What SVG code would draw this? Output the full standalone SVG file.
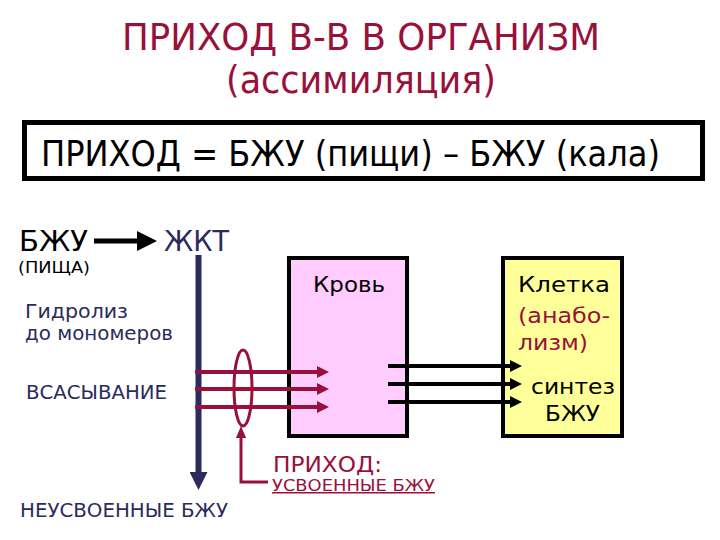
<svg xmlns="http://www.w3.org/2000/svg" width="720" height="540" viewBox="0 0 720 540">
<style>
text{font-family:"DejaVu Sans","Noto Sans",sans-serif}
.red{fill:#99103a}
.navy{fill:#2b2b5c}
.box{stroke:#000;stroke-width:4}
</style>
<defs>
<marker id="ab" markerWidth="4" markerHeight="4" refX="0" refY="2" orient="auto" markerUnits="strokeWidth"><path d="M0,0L4,2L0,4z" fill="#000"/></marker>
<marker id="ab3" markerWidth="3" markerHeight="3" refX="0" refY="1.5" orient="auto" markerUnits="strokeWidth"><path d="M0,0L3,1.5L0,3z" fill="#000"/></marker>
<marker id="ar" markerWidth="3" markerHeight="3" refX="0" refY="1.5" orient="auto" markerUnits="strokeWidth"><path d="M0,0L3,1.5L0,3z" fill="#99103a"/></marker>
<marker id="ar4" markerWidth="4" markerHeight="4" refX="0" refY="1.7" orient="auto" markerUnits="strokeWidth"><path d="M0,0L4,1.7L0,3.4z" fill="#99103a"/></marker>
<marker id="an" markerWidth="3" markerHeight="3" refX="0" refY="1.5" orient="auto" markerUnits="strokeWidth"><path d="M0,0L3,1.5L0,3z" fill="#2b2b5c"/></marker>
</defs>
<rect width="720" height="540" fill="#fff"/>
<g id="title">
<text class="red" x="122" y="50" font-size="37" textLength="478" lengthAdjust="spacingAndGlyphs">ПРИХОД В-В В ОРГАНИЗМ</text>
<text class="red" x="226" y="93" font-size="37" textLength="270" lengthAdjust="spacingAndGlyphs">(ассимиляция)</text>
</g>
<g id="formula">
<rect x="24.5" y="122.5" width="678" height="56" fill="#fff" stroke="#000" stroke-width="5"/>
<text x="41" y="166" font-size="35" textLength="619" lengthAdjust="spacingAndGlyphs">ПРИХОД = БЖУ (пищи) – БЖУ (кала)</text>
</g>
<g id="bzhu">
<text x="19" y="251" font-size="28" textLength="69" lengthAdjust="spacingAndGlyphs">БЖУ</text>
<text x="18" y="273" font-size="16" textLength="72" lengthAdjust="spacingAndGlyphs">(ПИЩА)</text>
</g>
<g id="zhkt">
<text class="navy" x="164" y="251" font-size="28" textLength="65" lengthAdjust="spacingAndGlyphs">ЖКТ</text>
</g>
<g id="labels">
<text class="navy" x="25" y="318" font-size="19" textLength="103" lengthAdjust="spacingAndGlyphs">Гидролиз</text>
<text class="navy" x="25" y="340" font-size="19" textLength="148" lengthAdjust="spacingAndGlyphs">до мономеров</text>
<text class="navy" x="26" y="399" font-size="19" textLength="141" lengthAdjust="spacingAndGlyphs">ВСАСЫВАНИЕ</text>
<text class="navy" x="20" y="517" font-size="19" textLength="208" lengthAdjust="spacingAndGlyphs">НЕУСВОЕННЫЕ БЖУ</text>
</g>
<g id="blood">
<rect x="289" y="258" width="118" height="178" fill="#ffccff" class="box"/>
<text x="313" y="292" font-size="21" textLength="72" lengthAdjust="spacingAndGlyphs">Кровь</text>
</g>
<g id="cell">
<rect x="503" y="258" width="119" height="178" fill="#ffff99" class="box"/>
<text x="518" y="292" font-size="21" textLength="92" lengthAdjust="spacingAndGlyphs">Клетка</text>
<text class="red" x="518" y="323" font-size="21" textLength="92" lengthAdjust="spacingAndGlyphs">(анабо-</text>
<text class="red" x="518" y="350" font-size="21" textLength="70" lengthAdjust="spacingAndGlyphs">лизм)</text>
<text x="531" y="394" font-size="21" textLength="84" lengthAdjust="spacingAndGlyphs">синтез</text>
<text x="545" y="421" font-size="21" textLength="55" lengthAdjust="spacingAndGlyphs">БЖУ</text>
</g>
<g id="income">
<ellipse cx="243" cy="388" rx="9" ry="38" fill="none" stroke="#99103a" stroke-width="3"/>
<text class="red" x="273" y="472" font-size="21" textLength="109" lengthAdjust="spacingAndGlyphs">ПРИХОД:</text>
<text class="red" x="272" y="491" font-size="15" textLength="163" lengthAdjust="spacingAndGlyphs" text-decoration="underline">УСВОЕННЫЕ БЖУ</text>
</g>
<g id="connectors" fill="none">
<line x1="94" y1="241" x2="137" y2="241" stroke="#000" stroke-width="5" marker-end="url(#ab)"/>
<line x1="198.5" y1="255" x2="198.5" y2="472" stroke="#2b2b5c" stroke-width="6" marker-end="url(#an)"/>
<line x1="195" y1="372" x2="317" y2="372" stroke="#99103a" stroke-width="4" marker-end="url(#ar)"/>
<line x1="195" y1="389" x2="317" y2="389" stroke="#99103a" stroke-width="4" marker-end="url(#ar)"/>
<line x1="195" y1="407" x2="317" y2="407" stroke="#99103a" stroke-width="4" marker-end="url(#ar)"/>
<line x1="388" y1="366" x2="510" y2="366" stroke="#000" stroke-width="4" marker-end="url(#ab3)"/>
<line x1="388" y1="384" x2="510" y2="384" stroke="#000" stroke-width="4" marker-end="url(#ab3)"/>
<line x1="388" y1="402" x2="510" y2="402" stroke="#000" stroke-width="4" marker-end="url(#ab3)"/>
<path d="M268,482H241V438" stroke="#99103a" stroke-width="3" marker-end="url(#ar4)"/>
</g>
</svg>
